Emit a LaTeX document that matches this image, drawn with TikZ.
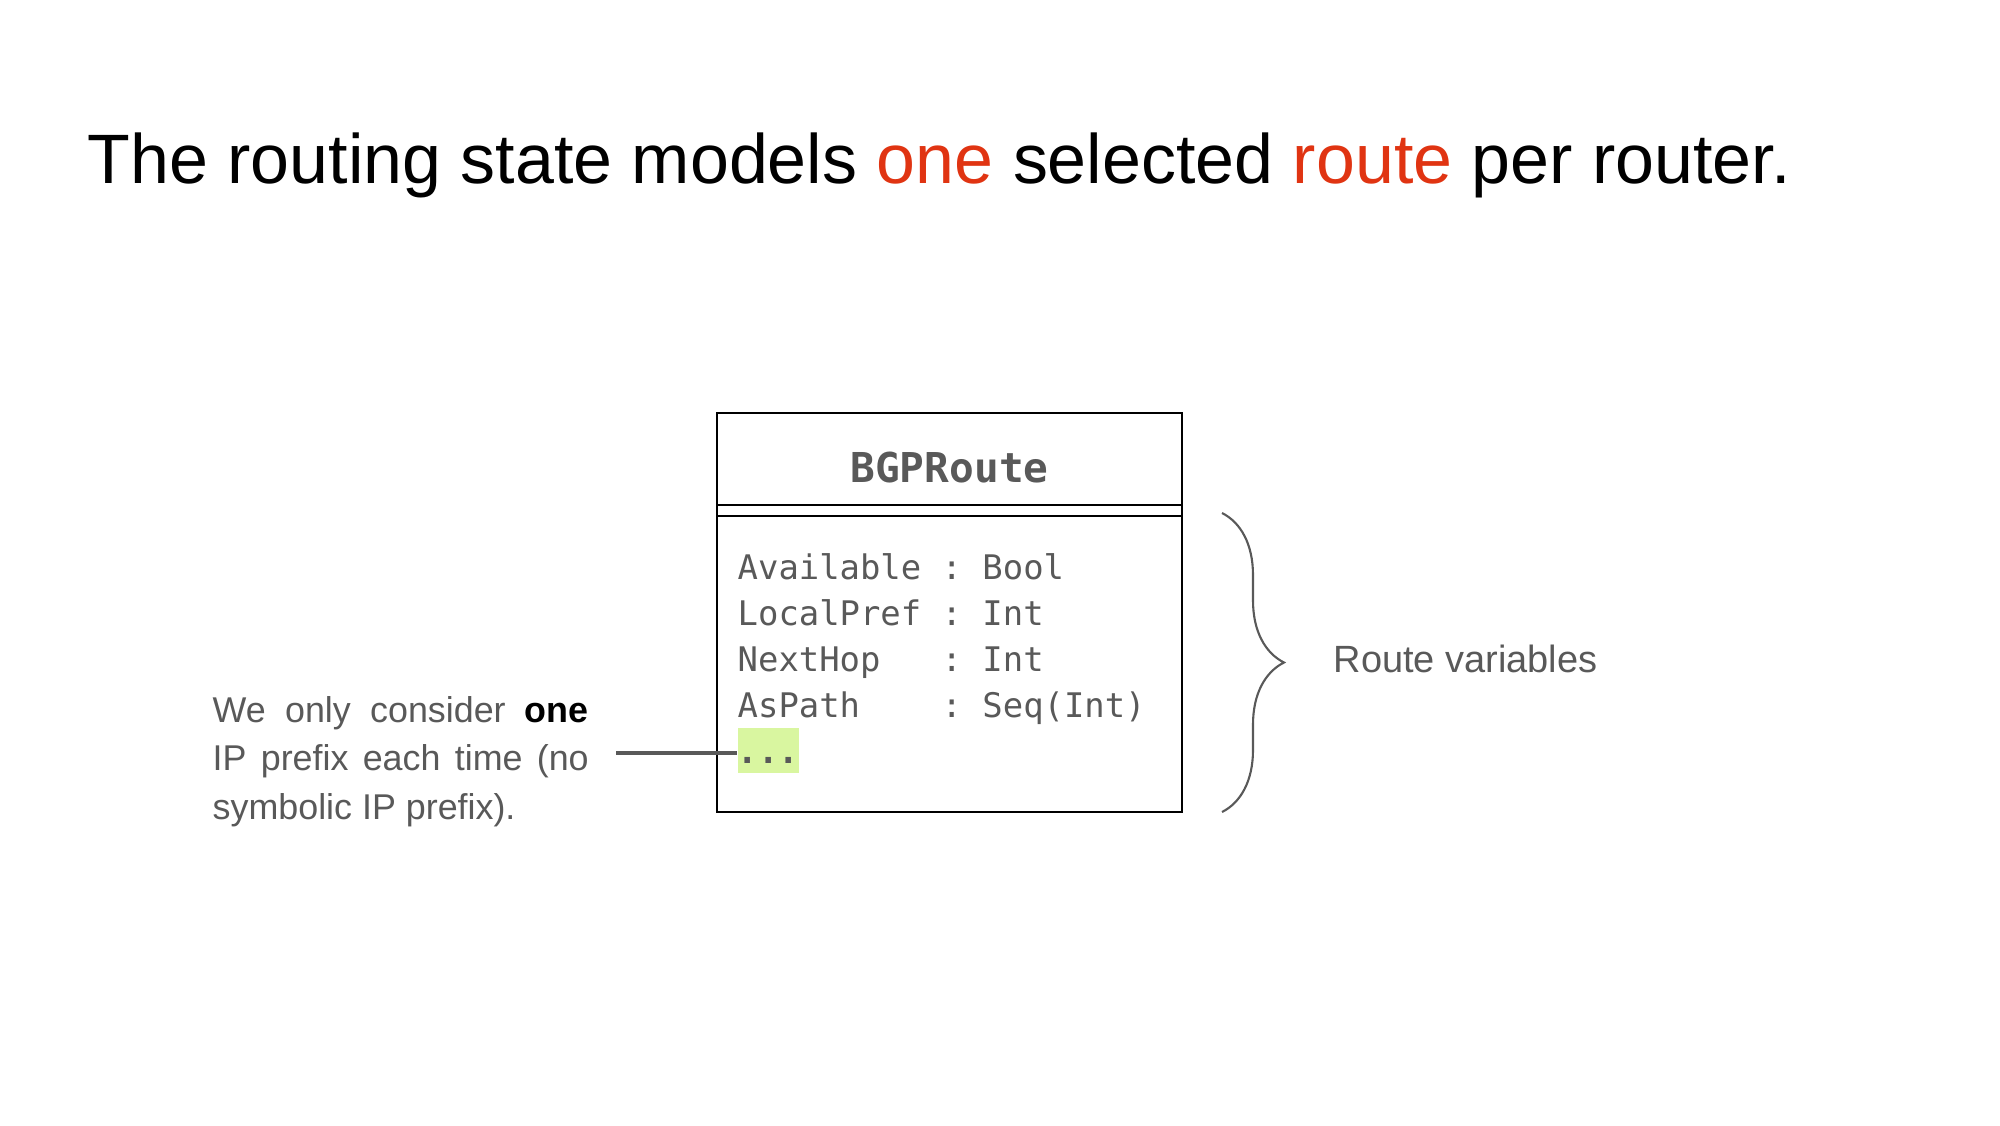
\documentclass[tikz,border=0pt]{standalone}
\usepackage{fontspec}
\setmainfont{Liberation Sans}
\setmonofont{DejaVu Sans Mono}
\usepackage{xcolor}
\usepackage{tikz}
\usetikzlibrary{positioning,decorations.pathreplacing}
\definecolor{slidegray}{HTML}{595959}
\definecolor{slidered}{RGB}{224,52,18}
\definecolor{dotgreen}{RGB}{217,246,160}
\tikzset{
  classhead/.style={draw=black,line width=0.65pt,outer sep=0pt,inner sep=0pt,minimum width=4.65cm,
    text height=0.69cm,text depth=0.23cm,text=slidegray,font=\fontsize{11.7}{14}\selectfont\ttfamily\bfseries},
  classgap/.style={draw=black,line width=0.65pt,outer sep=0pt,inner sep=0pt,minimum width=4.65cm,minimum height=0.11cm},
  classbody/.style={draw=black,line width=0.65pt,outer sep=0pt,inner sep=0pt,minimum width=4.65cm,minimum height=2.96cm},
  fieldtext/.style={inner sep=0pt,align=left,text=slidegray,font=\fontsize{9.64}{13}\selectfont\ttfamily},
  dotsbox/.style={fill=dotgreen,inner sep=0pt,text height=0.35cm,text depth=0.1cm,text=slidegray,
    font=\fontsize{9.64}{13}\selectfont\ttfamily\bfseries},
  notetext/.style={inner sep=0pt,text width=3.76cm,align=justify,text=slidegray,font=\fontsize{10.2}{13.8}\selectfont},
  sidelabel/.style={inner sep=0pt,text=slidegray,font=\fontsize{10.8}{13}\selectfont},
  slidetitle/.style={inner sep=0pt,font=\fontsize{19.9}{24}\selectfont},
  pointerline/.style={draw=slidegray,line width=1.1pt},
  fieldbrace/.style={draw=slidegray,line width=0.6pt,decorate,decoration={brace,amplitude=0.62cm}}
}
\begin{document}
\begin{tikzpicture}[node distance=0pt]
  \useasboundingbox (0,0) rectangle (20,-11.25);
  \node[slidetitle,anchor=base west] (title) at (0.87,-1.83)
    {The routing state models \textcolor{slidered}{one} selected \textcolor{slidered}{route} per router.};
  \node[classhead,anchor=north west] (head) at (7.17,-4.13) {BGPRoute};
  \node[classgap,below=of head] (gap) {};
  \node[classbody,below=of gap] (body) {};
  \node[fieldtext,anchor=base west] (fields) at (7.37,-7.17)
    {Available~:~Bool\\LocalPref~:~Int\\NextHop~~~:~Int\\AsPath~~~~:~Seq(Int)};
  \node[dotsbox,anchor=base west] (dots) at (7.37,-7.63) {...};
  \node[notetext,anchor=base west] (note) at (2.12,-7.22)
    {We only consider \textbf{\color{black}one} IP prefix each time (no symbolic IP prefix).};
  \coordinate (tail) at (6.16,-7.53);
  \draw[pointerline] (tail) -- (tail -| dots.west);
  \coordinate (bracetop) at (12.22,-5.13);
  \coordinate (bracebot) at (12.22,-8.12);
  \draw[fieldbrace] (bracetop) -- (bracebot);
  \node[sidelabel,anchor=base west] (rvlabel) at (13.33,-6.72) {Route variables};
\end{tikzpicture}
\end{document}
